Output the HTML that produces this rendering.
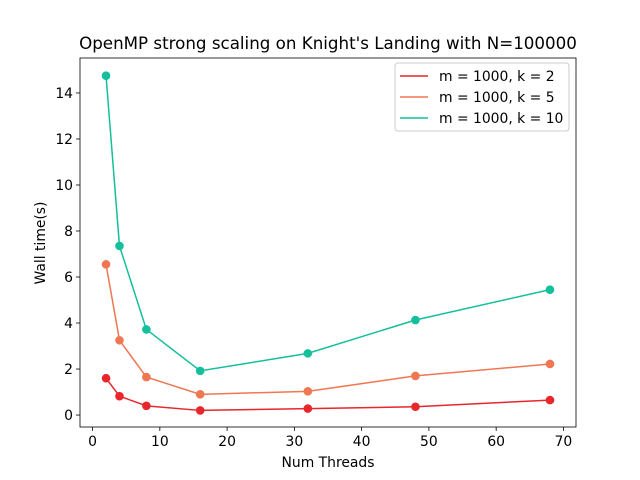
<!DOCTYPE html>
<html><head><meta charset="utf-8"><style>body{margin:0;background:#fff}svg{display:block;font-family:"DejaVu Sans","Liberation Sans",sans-serif}</style></head>
<body>
<svg id="c" width="640" height="480"></svg>
<script>
const threads=[2,4,8,16,32,48,68];
const k2=[1.6,0.82,0.4,0.2,0.28,0.36,0.65];
const k5=[6.55,3.25,1.65,0.9,1.03,1.7,2.22];
const k10=[14.75,7.35,3.72,1.92,2.68,4.13,5.45];
const xTicks=[0,10,20,30,40,50,60,70];
const yTicks=[0,2,4,6,8,10,12,14];
const seriesNames=["m = 1000, k = 2","m = 1000, k = 5","m = 1000, k = 10"];
const colors=["#e8262b","#ef7752","#14bf9b"];
const L=80,R=576,T=58,B=427,x0=-1.87,x1=71.87,y0=-0.52,y1=15.52;
const sx=v=>L+(v-x0)/(x1-x0)*(R-L), sy=v=>B-(v-y0)/(y1-y0)*(B-T);
const svg=document.getElementById('c');const NS="http://www.w3.org/2000/svg";
function mk(t,a,txt){const e=document.createElementNS(NS,t);for(const k in a)e.setAttribute(k,a[k]);if(txt!=null)e.textContent=txt;svg.appendChild(e);return e;}
let e;
e=mk('text',{x:328,y:49,'text-anchor':'middle','font-size':16.7},"OpenMP strong scaling on Knight's Landing with N=100000");


xTicks.forEach(v=>{mk('line',{x1:sx(v),x2:sx(v),y1:B,y2:B+4,stroke:'#000','stroke-width':0.8});
e=mk('text',{x:sx(v),y:B+19,'text-anchor':'middle','font-size':13.9},v);

});
yTicks.forEach(v=>{mk('line',{x1:L-4,x2:L,y1:sy(v),y2:sy(v),stroke:'#000','stroke-width':0.8});
e=mk('text',{x:L-7,y:sy(v)+5,'text-anchor':'end','font-size':13.9},v);

});
e=mk('text',{x:328,y:467,'text-anchor':'middle','font-size':13.9},"Num Threads");


e=mk('text',{x:45,y:243,'text-anchor':'middle','font-size':13.9,transform:'rotate(-90 45 243)'},"Wall time(s)");


[k2,k5,k10].forEach((s,i)=>{
e=mk('polyline',{points:threads.map((t,j)=>sx(t)+','+sy(s[j])).join(' '),fill:'none',stroke:colors[i],'stroke-width':1.5});


threads.forEach((t,j)=>{e=mk('circle',{cx:sx(t),cy:sy(s[j]),r:4.3,fill:colors[i]});

});
});
e=mk('rect',{x:L,y:T,width:R-L,height:B-T,fill:'none',stroke:'#000','stroke-width':0.8});


e=mk('rect',{x:395,y:63,width:174,height:68,fill:'#fff',stroke:'#ccc',rx:3});


seriesNames.forEach((n,i)=>{const y=76+i*21;
mk('line',{x1:400,x2:428,y1:y,y2:y,stroke:colors[i],'stroke-width':1.5});
e=mk('text',{x:439,y:y+5,'font-size':13.9},n);

});
</script>
</body></html>
